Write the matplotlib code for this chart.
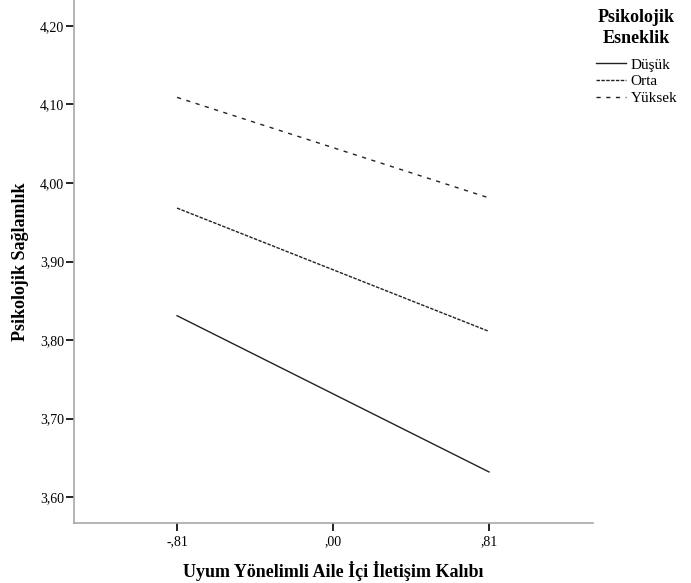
import matplotlib.pyplot as plt

plt.rcParams['font.family'] = ['Liberation Serif', 'DejaVu Serif']

# moderator levels and predicted values
x_vals = [-0.81, 0.81]
x_labels = ['-,81', ',00', ',81']
groups = ['Düşük', 'Orta', 'Yüksek']
dusuk = [3.831, 3.632]
orta = [3.968, 3.811]
yuksek = [4.109, 3.981]
y_ticks = [3.60, 3.70, 3.80, 3.90, 4.00, 4.10, 4.20]

fig = plt.figure(figsize=(6.91, 5.83), dpi=100)
ax = fig.add_axes([0.1071, 0.1029, 0.7511, 0.8971])

ax.plot(x_vals, dusuk, color='#222222', lw=1.0, ls='-', label=groups[0])
ax.plot(x_vals, orta, color='#222222', lw=1.0, ls=(0, (2.5, 1)), label=groups[1])
ax.plot(x_vals, yuksek, color='#222222', lw=1.0, ls=(0, (3, 4)), label=groups[2])

ax.set_xlim(-1.345, 1.35)
ax.set_ylim(3.567, 4.233)
ax.set_xticks([-0.81, 0.0, 0.81])
ax.set_xticklabels(x_labels)
ax.set_yticks(y_ticks)
ax.set_yticklabels([('%.2f' % v).replace('.', ',') for v in y_ticks])

for s in ['top', 'right']:
    ax.spines[s].set_visible(False)
for s in ['left', 'bottom']:
    ax.spines[s].set_color('#a8a8a8')
    ax.spines[s].set_linewidth(1.2)
ax.tick_params(axis='y', direction='out', length=6, width=1.2, color='black', labelsize=10, pad=1)
ax.tick_params(axis='x', direction='out', length=6, width=1.2, color='black', labelsize=10, pad=3)

ax.set_xlabel('Uyum Yönelimli Aile İçi İletişim Kalıbı', fontsize=13, fontweight='bold', labelpad=9)
ax.set_ylabel('Psikolojik Sağlamlık', fontsize=13, fontweight='bold', labelpad=8)

leg = fig.legend(loc='upper left', bbox_to_anchor=(0.853, 0.995), frameon=False,
                 title='Psikolojik\nEsneklik', fontsize=11, handlelength=2.0,
                 handletextpad=0.3, labelspacing=0.2, borderaxespad=0)
leg.get_title().set_fontweight('bold')
leg.get_title().set_fontsize(13)
leg.get_title().set_multialignment('center')
leg.get_title().set_linespacing(1.3)
# extra gap between title and entries
leg._legend_box.sep = 8

fig.savefig('out.png', dpi=100)
